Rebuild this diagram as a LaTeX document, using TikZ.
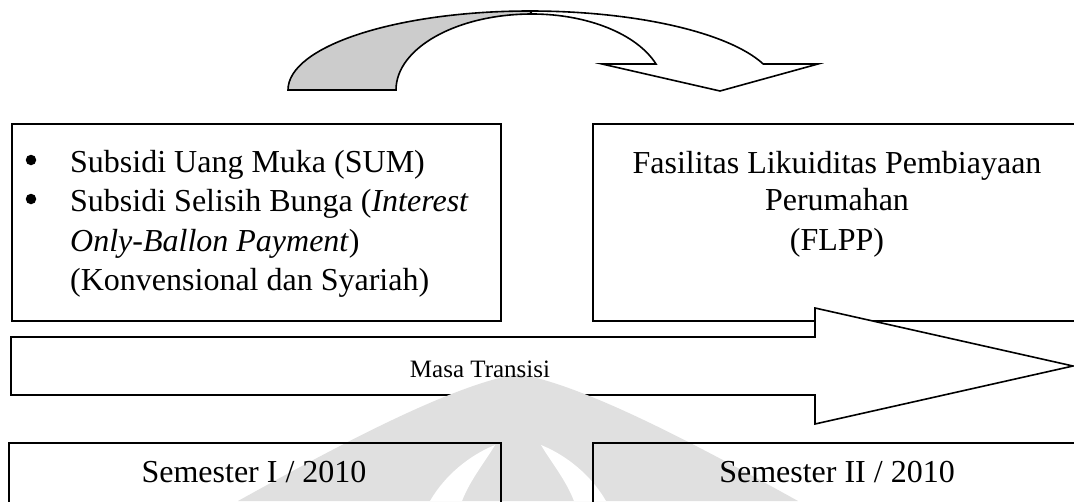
\documentclass[tikz,border=0pt]{standalone}
\usepackage{fontspec}
\setmainfont{Liberation Serif}
\begin{document}
\begin{tikzpicture}[x=1pt,y=-1pt,
  outline/.style={draw=black,line width=1.6pt,line join=miter},
  box/.style={outline,rectangle,inner sep=0pt},
  bigtext/.style={font=\fontsize{32}{38}\selectfont,inner sep=0pt},
  smalltext/.style={font=\fontsize{25}{30}\selectfont,inner sep=0pt},
  dot/.style={circle,fill=black,draw=none,inner sep=0pt,minimum size=10.5pt},
  emblem/.style={fill=black!12,draw=none}]
\clip (0,0) rectangle (1074,501);
\fill[white] (0,0) rectangle (1074,501);

% upper boxes
\node[box,minimum width=489pt,minimum height=197pt] (old) at (256.5,222.5) {};
\node[box,minimum width=520pt,minimum height=197pt] (flpp) at (853,222.5) {};

% curved arrow: shaded back band and white front band with head
\draw[outline,fill=black!20] (288,90) arc[start angle=180,end angle=270,x radius=242,y radius=79]
  -- (532,14) arc[start angle=270,end angle=180,x radius=136,y radius=76] -- cycle;
\draw[outline,fill=white] (530,11) arc[start angle=270,end angle=340.8,x radius=247,y radius=79]
  -- (818,64) -- (720,91) -- (602,64) -- (656,64)
  arc[start angle=340,end angle=270,x radius=132,y radius=76] -- cycle;

% transition arrow
\node[inner sep=0pt] (tail) at (11,366) {};
\coordinate (tip) at (1073,366);
\draw[outline,fill=white] (11,337) -- (815,337) -- (815,308) -- (tip) -- (815,424) -- (815,395) -- (11,395) -- cycle;

% faint emblem behind the lower part
\path[emblem] (238,501) .. controls (330,450) and (450,385) .. (518,374)
  .. controls (586,385) and (706,450) .. (798,501) -- cycle;
\path[fill=white] (430,501) .. controls (445,475) and (470,455) .. (495,445)
  .. controls (485,462) and (470,480) .. (462,501) -- cycle;
\path[fill=white] (606,501) .. controls (591,475) and (566,455) .. (541,445)
  .. controls (551,462) and (566,480) .. (574,501) -- cycle;

% lower boxes
\node[box,minimum width=492pt,minimum height=120pt] (sem1) at (255,503) {};
\node[box,minimum width=520pt,minimum height=120pt] (sem2) at (853,503) {};

% texts
\node[dot] (b1) at (31,160) {};
\node[dot] (b2) at (31,199) {};
\node[bigtext,anchor=base west] (l1) at (70,172) {Subsidi Uang Muka (SUM)};
\node[bigtext,anchor=base west] (l2) at (70,211) {Subsidi Selisih Bunga (\textit{Interest}};
\node[bigtext,anchor=base west] (l3) at (70,251) {\textit{Only-Ballon Payment})};
\node[bigtext,anchor=base west] (l4) at (70,290) {(Konvensional dan Syariah)};

\node[bigtext,anchor=base] (r1) at (837,173) {Fasilitas Likuiditas Pembiayaan};
\node[bigtext,anchor=base] (r2) at (837,210) {Perumahan};
\node[bigtext,anchor=base] (r3) at (837,250) {(FLPP)};

\node[smalltext,anchor=base] (mt) at (480,377) {Masa Transisi};

\node[bigtext,anchor=base] (s1) at (254,482) {Semester I / 2010};
\node[bigtext,anchor=base] (s2) at (837,482) {Semester II / 2010};
\end{tikzpicture}
\end{document}
